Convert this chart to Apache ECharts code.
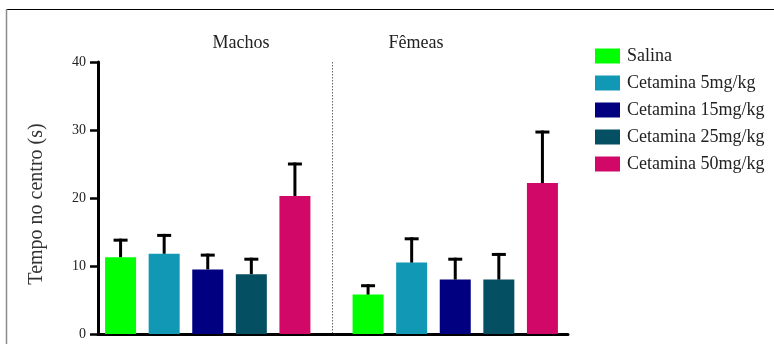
<!DOCTYPE html>
<html>
<head>
<meta charset="utf-8">
<script src="https://cdn.jsdelivr.net/npm/echarts@6/dist/echarts.min.js"></script>
<style>
  html, body { margin: 0; padding: 0; background: #ffffff; }
  #chart { width: 774px; height: 344px; }
</style>
</head>
<body>
<div id="chart"></div>
<script>
// Groups on the x axis and treatments shown as bars within each group
const groups = ['Machos', 'Fêmeas'];
const treatments = ['Salina', 'Cetamina 5mg/kg', 'Cetamina 15mg/kg', 'Cetamina 25mg/kg', 'Cetamina 50mg/kg'];

// Mean time in the centre (s), ordered [Machos, Fêmeas]
const salinaMean = [11.3, 5.8];
const ket5Mean   = [11.8, 10.5];
const ket15Mean  = [9.5, 8.0];
const ket25Mean  = [8.8, 8.0];
const ket50Mean  = [20.3, 22.2];

// Standard error of the mean, ordered [Machos, Fêmeas]
const salinaErr = [2.5, 1.3];
const ket5Err   = [2.7, 3.5];
const ket15Err  = [2.1, 3.0];
const ket25Err  = [2.2, 3.7];
const ket50Err  = [4.7, 7.5];

// Y axis ticks
const yTicks = [0, 10, 20, 30, 40];

const means = [salinaMean, ket5Mean, ket15Mean, ket25Mean, ket50Mean];
const errs  = [salinaErr, ket5Err, ket15Err, ket25Err, ket50Err];
const colors = ['#00FF00', '#1198B4', '#000080', '#044F62', '#D10868'];

const FONT = 'Liberation Serif';
const TEXT = '#222222';
const BAR_W = 31;
const BAR_GAP = 0.406;               // fraction of bar width
const STEP = BAR_W * (1 + BAR_GAP);  // centre-to-centre distance within a group

const chart = echarts.init(document.getElementById('chart'), null, { renderer: 'canvas' });

const barSeries = treatments.map((name, t) => ({
  name: name,
  type: 'bar',
  xAxisIndex: 1,
  yAxisIndex: 1,
  barWidth: BAR_W,
  barGap: (BAR_GAP * 100) + '%',
  itemStyle: { color: colors[t] },
  emphasis: { disabled: true },
  data: means[t]
}));

// Error bars: [group index, treatment index, mean, error]
const errData = [];
treatments.forEach((_, t) => {
  groups.forEach((_, g) => errData.push([g, t, means[t][g], errs[t][g]]));
});

const errSeries = {
  type: 'custom',
  name: 'SEM',
  xAxisIndex: 1,
  yAxisIndex: 1,
  z: 5,
  encode: { x: 0, y: 2 },
  data: errData,
  renderItem: function (params, api) {
    const g = api.value(0), t = api.value(1), m = api.value(2), e = api.value(3);
    const base = api.coord([g, m]);
    const top = api.coord([g, m + e]);
    const x = base[0] + (t - (treatments.length - 1) / 2) * STEP;
    const style = { stroke: '#000000', lineWidth: 3 };
    return {
      type: 'group',
      children: [
        { type: 'line', shape: { x1: x, y1: base[1], x2: x, y2: top[1] - 1.5 }, style: style },
        { type: 'line', shape: { x1: x - 7, y1: top[1], x2: x + 7, y2: top[1] }, style: style }
      ]
    };
  }
};

const option = {
  backgroundColor: '#ffffff',
  animation: false,
  legend: {
    orient: 'vertical',
    left: 590,
    top: 42,
    itemWidth: 25,
    itemHeight: 15,
    itemGap: 9,
    icon: 'rect',
    data: treatments,
    textStyle: { fontFamily: FONT, fontSize: 18, color: TEXT, padding: [0, 0, 0, 2] }
  },
  grid: [
    // visible axes
    { left: 98, right: 206, top: 62, bottom: 10 },
    // bar layout (wider so that the group centres sit where the bars belong)
    { left: 84, right: 195, top: 62, bottom: 10 }
  ],
  xAxis: [
    {
      gridIndex: 0, type: 'value', min: 0, max: 1,
      axisLine: { show: true, onZero: false, lineStyle: { color: '#000', width: 3 } },
      axisTick: { show: false }, axisLabel: { show: false }, splitLine: { show: false }
    },
    {
      gridIndex: 1, type: 'category', data: groups,
      axisLine: { show: false }, axisTick: { show: false }, axisLabel: { show: false },
      splitLine: { show: false }
    }
  ],
  yAxis: [
    {
      gridIndex: 0, type: 'value', min: yTicks[0], max: yTicks[yTicks.length - 1], interval: 10,
      axisLine: { show: true, lineStyle: { color: '#000', width: 3 } },
      axisTick: { show: true, length: 8, lineStyle: { color: '#000', width: 2.5 } },
      axisLabel: { margin: 12, fontFamily: FONT, fontSize: 14, color: TEXT },
      splitLine: { show: false }
    },
    {
      gridIndex: 1, type: 'value', min: yTicks[0], max: yTicks[yTicks.length - 1],
      show: false, splitLine: { show: false }
    }
  ],
  graphic: [
    { id: 'frameTop', type: 'line', shape: { x1: 6, y1: 9.5, x2: 774, y2: 9.5 }, style: { stroke: '#000', lineWidth: 1.2 } },
    { id: 'frameLeft', type: 'line', shape: { x1: 6.5, y1: 9, x2: 6.5, y2: 344 }, style: { stroke: '#8a8a8a', lineWidth: 1.5 } },
    { id: 'yTitle', type: 'text', x: 37, y: 204, rotation: Math.PI / 2,
      style: { text: 'Tempo no centro (s)', fontFamily: FONT, fontSize: 20, fill: '#333', align: 'center', verticalAlign: 'middle' } },
    { id: 'lblM', type: 'text', x: 241, y: 43,
      style: { text: groups[0], fontFamily: FONT, fontSize: 18, fill: TEXT, align: 'center', verticalAlign: 'middle' } },
    { id: 'lblF', type: 'text', x: 416, y: 43,
      style: { text: groups[1], fontFamily: FONT, fontSize: 18, fill: TEXT, align: 'center', verticalAlign: 'middle' } }
  ],
  series: barSeries.concat([errSeries])
};

chart.setOption(option);

// Dotted divider between the two groups, on the category boundary
const c0 = chart.convertToPixel({ xAxisIndex: 1 }, 0);
const c1 = chart.convertToPixel({ xAxisIndex: 1 }, 1);
const yTop = chart.convertToPixel({ yAxisIndex: 0 }, yTicks[yTicks.length - 1]);
const yBot = chart.convertToPixel({ yAxisIndex: 0 }, yTicks[0]);
const xDiv = Math.round((c0 + c1) / 2) + 0.5;
chart.setOption({
  graphic: [
    { id: 'divider', type: 'line', shape: { x1: xDiv, y1: yTop, x2: xDiv, y2: yBot },
      style: { stroke: '#666', lineWidth: 1, lineDash: [1.5, 1.5] } }
  ]
});
</script>
</body>
</html>
